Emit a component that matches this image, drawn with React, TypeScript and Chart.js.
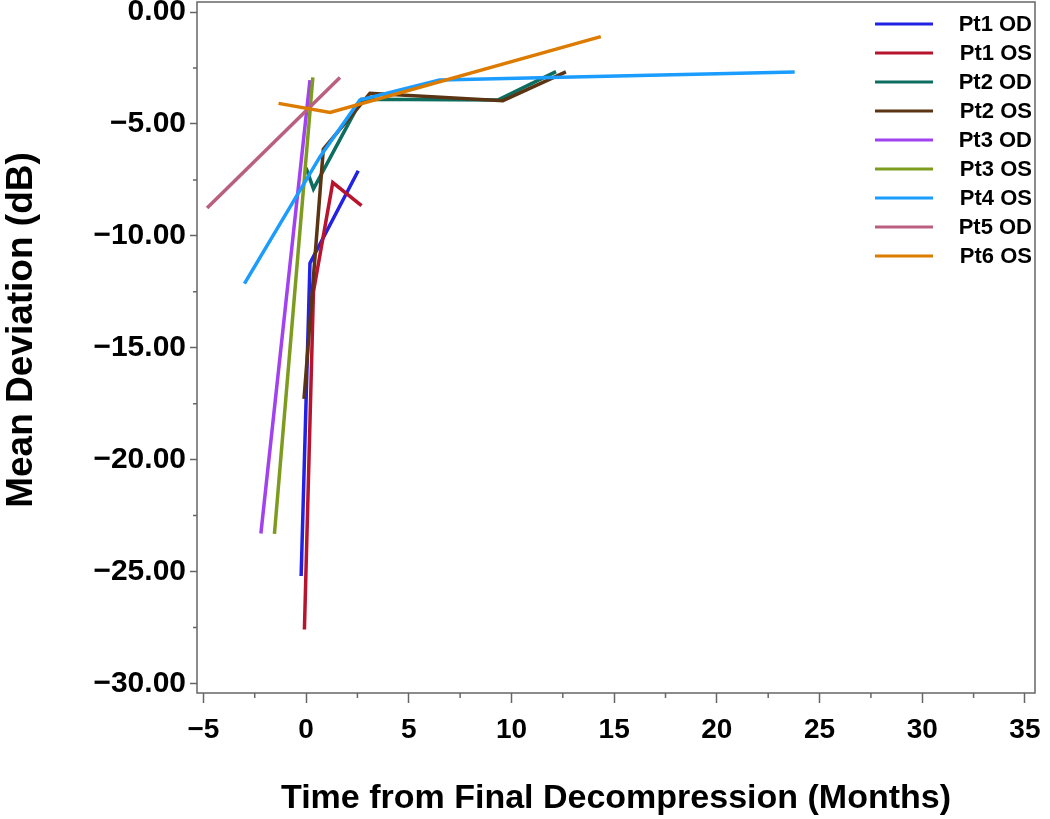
import React, { useEffect, useRef } from 'react';
import { Chart, registerables } from 'chart.js';

Chart.register(...registerables);

// ---- Data (months from final decompression, mean deviation dB) ----
const seriesNames = ['Pt1 OD', 'Pt1 OS', 'Pt2 OD', 'Pt2 OS', 'Pt3 OD', 'Pt3 OS', 'Pt4 OS', 'Pt5 OD', 'Pt6 OS'];
const seriesColors = ['#2222e4', '#b8142e', '#0d6e60', '#5a3413', '#a141f0', '#7d9b1f', '#1b9cff', '#b95f80', '#dc7b00'];

const pt1OdX = [-0.24, 0.19, 2.54];
const pt1OdY = [-25.2, -11.22, -7.09];
const pt1OsX = [-0.08, 0.36, 1.3, 2.7];
const pt1OsY = [-27.59, -12.5, -7.62, -8.65];
const pt2OdX = [0.0, 0.36, 2.7, 9.33, 12.17];
const pt2OdY = [-6.96, -7.9, -3.9, -3.93, -2.66];
const pt2OsX = [-0.1, 0.84, 3.11, 9.58, 12.65];
const pt2OsY = [-17.29, -6.13, -3.63, -3.96, -2.67];
const pt3OdX = [-2.2, 0.19];
const pt3OdY = [-23.3, -3.04];
const pt3OsX = [-1.54, 0.33];
const pt3OsY = [-23.32, -2.92];
const pt4OsX = [-3.0, 0.68, 2.62, 6.5, 23.79];
const pt4OsY = [-12.14, -6.46, -3.93, -3.04, -2.68];
const pt5OdX = [-4.82, 1.65];
const pt5OdY = [-8.76, -2.92];
const pt6OsX = [-1.34, 1.17, 14.35];
const pt6OsY = [-4.08, -4.49, -1.1];

const seriesX = [pt1OdX, pt1OsX, pt2OdX, pt2OsX, pt3OdX, pt3OsX, pt4OsX, pt5OdX, pt6OsX];
const seriesY = [pt1OdY, pt1OsY, pt2OdY, pt2OsY, pt3OdY, pt3OsY, pt4OsY, pt5OdY, pt6OsY];

const xTicks = [-5, 0, 5, 10, 15, 20, 25, 30, 35];
const yTicks = [0, -5, -10, -15, -20, -25, -30];
const xMinorTicks = [-2.5, 2.5, 7.5, 12.5, 17.5, 22.5, 27.5, 32.5];
const yMinorTicks = [-2.5, -7.5, -12.5, -17.5, -22.5, -27.5];

const xTitle = 'Time from Final Decompression (Months)';
const yTitle = 'Mean Deviation (dB)';

const FONT = "'Liberation Sans', Arial, Helvetica, sans-serif";
const FRAME = '#666666';

const fmtX = (v: number) => (v < 0 ? '\u2212' + Math.abs(v) : String(v));
const fmtY = (v: number) => (v < 0 ? '\u2212' + Math.abs(v).toFixed(2) : v.toFixed(2));

const decorPlugin = {
  id: 'decor',
  afterDraw(chart: any) {
    const { ctx, chartArea } = chart;
    const xs = chart.scales.x;
    const ys = chart.scales.y;
    ctx.save();
    // frame
    ctx.strokeStyle = FRAME;
    ctx.lineWidth = 1.5;
    ctx.strokeRect(chartArea.left, chartArea.top, chartArea.right - chartArea.left, chartArea.bottom - chartArea.top);
    // minor ticks
    ctx.beginPath();
    xMinorTicks.forEach((v) => {
      const px = xs.getPixelForValue(v);
      ctx.moveTo(px, chartArea.bottom);
      ctx.lineTo(px, chartArea.bottom + 5);
    });
    yMinorTicks.forEach((v) => {
      const py = ys.getPixelForValue(v);
      ctx.moveTo(chartArea.left, py);
      ctx.lineTo(chartArea.left - 4, py);
    });
    ctx.stroke();
    // y title
    ctx.fillStyle = '#000';
    ctx.font = `bold 37px ${FONT}`;
    ctx.textAlign = 'center';
    ctx.textBaseline = 'middle';
    ctx.translate(22, 330);
    ctx.rotate(-Math.PI / 2);
    ctx.fillText(yTitle, 0, 0);
    ctx.restore();

    // legend
    ctx.save();
    chart.data.datasets.forEach((ds: any, i: number) => {
      const y = 24 + i * 29;
      ctx.strokeStyle = ds.borderColor;
      ctx.lineWidth = 3;
      ctx.beginPath();
      ctx.moveTo(875, y);
      ctx.lineTo(933, y);
      ctx.stroke();
      ctx.fillStyle = '#000';
      ctx.font = `bold 22px ${FONT}`;
      ctx.textAlign = 'right';
      ctx.textBaseline = 'middle';
      ctx.fillText(ds.label, 1032, y + 1);
    });
    ctx.restore();
  },
};

export default function App() {
  const canvasRef = useRef<HTMLCanvasElement | null>(null);

  useEffect(() => {
    if (!canvasRef.current) return;
    const datasets = seriesNames.map((name, i) => ({
      label: name,
      data: seriesX[i].map((x, j) => ({ x, y: seriesY[i][j] })),
      borderColor: seriesColors[i],
      backgroundColor: seriesColors[i],
      borderWidth: 3.5,
      pointRadius: 0,
      tension: 0,
      fill: false,
      order: seriesNames.length - i,
    }));

    const chart = new Chart(canvasRef.current, {
      type: 'line',
      data: { datasets },
      options: {
        animation: false,
        responsive: false,
        devicePixelRatio: 1,
        layout: { padding: { top: 2, right: 15, left: 0, bottom: 0 } },
        plugins: {
          legend: { display: false },
          tooltip: { enabled: false },
        },
        scales: {
          x: {
            type: 'linear',
            min: -5.31,
            max: 35.49,
            afterBuildTicks: (scale: any) => {
              scale.ticks = xTicks.map((v) => ({ value: v }));
            },
            afterFit: (scale: any) => {
              scale.height = 126;
              scale.paddingLeft = 0;
              scale.paddingRight = 0;
            },
            grid: { drawOnChartArea: false, drawTicks: true, tickLength: 10, tickColor: FRAME, tickWidth: 1.5 },
            border: { display: false },
            ticks: {
              color: '#000',
              font: { family: FONT, size: 28, weight: 'bold' },
              padding: 10,
              maxRotation: 0,
              autoSkip: false,
              callback: (v: any) => fmtX(Number(v)),
            },
            title: {
              display: true,
              text: xTitle,
              color: '#000',
              font: { family: FONT, size: 34, weight: 'bold' },
              padding: { top: 0, bottom: 0 },
            },
          },
          y: {
            type: 'linear',
            min: -30.43,
            max: 0.45,
            afterBuildTicks: (scale: any) => {
              scale.ticks = yTicks.map((v) => ({ value: v }));
            },
            afterFit: (scale: any) => {
              scale.width = 197;
              scale.paddingTop = 0;
              scale.paddingBottom = 0;
            },
            grid: { drawOnChartArea: false, drawTicks: true, tickLength: 7, tickColor: FRAME, tickWidth: 1.5 },
            border: { display: false },
            ticks: {
              color: '#000',
              font: { family: FONT, size: 30, weight: 'bold' },
              padding: 4,
              autoSkip: false,
              callback: (v: any) => fmtY(Number(v)),
            },
          },
        },
      } as any,
      plugins: [decorPlugin],
    });
    return () => chart.destroy();
  }, []);

  return (
    <div style={{ position: 'fixed', left: 0, top: 0, width: 1050, height: 819, background: '#fff' }}>
      <canvas ref={canvasRef} width={1050} height={819} />
    </div>
  );
}
